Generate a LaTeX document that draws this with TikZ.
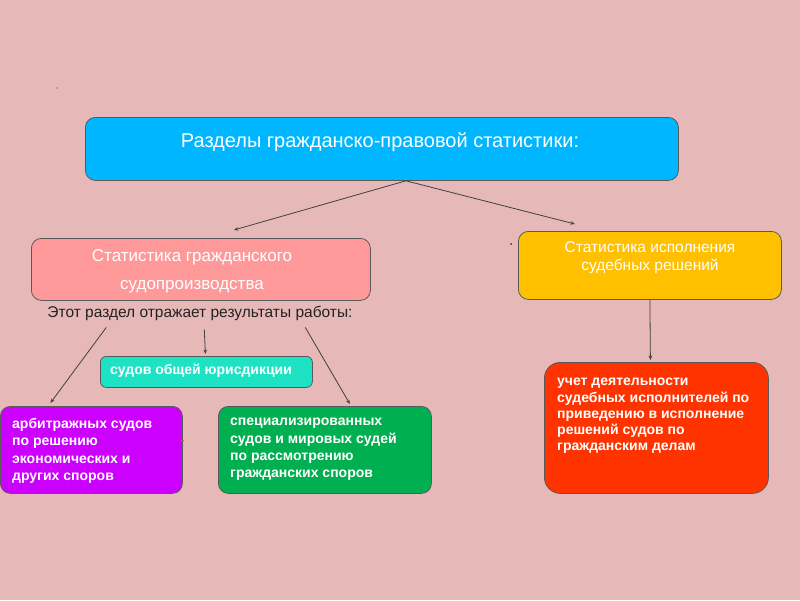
\documentclass[tikz,border=0pt]{standalone}
\usepackage{fontspec}
\setmainfont{Liberation Sans}
\usetikzlibrary{calc,arrows.meta}
\definecolor{bgpink}{RGB}{230,185,184}
\definecolor{cblue}{RGB}{0,183,255}
\definecolor{cpink}{RGB}{255,153,153}
\definecolor{cyellow}{RGB}{255,192,0}
\definecolor{cteal}{RGB}{30,226,196}
\definecolor{cpurple}{RGB}{204,0,255}
\definecolor{cgreen}{RGB}{0,176,80}
\definecolor{cred}{RGB}{255,51,0}
\definecolor{ctext}{RGB}{35,35,35}
\begin{document}
\begin{tikzpicture}[x=1pt,y=-1pt,
  box/.style={draw=black!65,line width=0.8pt,rounded corners=10pt,anchor=north west,inner sep=0pt},
  lbl/.style={text=white,inner sep=0pt,font=\fontsize{14}{17.4}\selectfont\bfseries},
  hdr/.style={text=white,inner sep=0pt,anchor=base},
  conn/.style={draw=black!75,line width=0.8pt,-{Stealth[length=4.5pt,width=3.5pt]}}]
\fill[bgpink] (0,0) rectangle (800,600);
\useasboundingbox (0,0) rectangle (800,600);
% boxes
\node[box,fill=cblue,minimum width=593pt,minimum height=63pt] (title) at (85,117) {};
\node[box,fill=cpink,minimum width=339pt,minimum height=62pt] (civil) at (31,238) {};
\node[box,fill=cyellow,minimum width=263pt,minimum height=68pt] (exec) at (518,231) {};
\node[box,fill=cteal,minimum width=212pt,minimum height=31pt,rounded corners=6pt] (general) at (100,356) {};
\node[box,fill=cpurple,minimum width=182pt,minimum height=87pt] (arb) at (0,406) {};
\node[box,fill=cgreen,minimum width=213pt,minimum height=87pt] (spec) at (218,406) {};
\node[box,fill=cred,minimum width=224pt,minimum height=131pt,rounded corners=16pt] (bailiff) at (544,362) {};
% texts
\node[hdr,font=\fontsize{20}{24}\selectfont] (titletext) at (380,147) {Разделы гражданско-правовой статистики:};
\node[hdr,font=\fontsize{17}{20}\selectfont] (civ1) at (192,261) {Статистика гражданского};
\node[hdr,font=\fontsize{17}{20}\selectfont] (civ2) at (192,289) {судопроизводства};
\node[inner sep=0pt,anchor=base,text=ctext,font=\fontsize{15.5}{18}\selectfont] (caption) at (200,317) {Этот раздел отражает результаты работы:};
\node[hdr,font=\fontsize{15.5}{18}\selectfont] (ex1) at (650,252) {Статистика исполнения};
\node[hdr,font=\fontsize{15.5}{18}\selectfont] (ex2) at (650,270) {судебных решений};
\node[lbl,anchor=base west] (gentext) at (110,374) {судов общей юрисдикции};
\node[lbl,anchor=north west,align=left] (arbtext) at (12,418) {арбитражных судов\\по решению\\экономических и\\других споров};
\node[lbl,anchor=north west,align=left] (spectext) at (230,418) {специализированных\\судов и мировых судей\\по рассмотрению\\гражданских споров};
\node[lbl,anchor=north west,align=left,font=\fontsize{14}{16.3}\selectfont\bfseries] (baitext) at (557,378) {учет деятельности\\судебных исполнителей по\\приведению в исполнение\\решений судов по\\гражданским делам};
% connectors
\coordinate (split) at ($(title.south)+(24,0)$);
\draw[conn] (split) -- ($(civil.north)+(33,-8)$);
\draw[conn] (split) -- ($(exec.north)+(-75,-7)$);
\draw[conn] ($(caption.south west)+(59,7)$) -- ($(arb.north)+(-41,-3)$);
\draw[conn] ($(caption.south west)+(157,9)$) -- ($(general.north)+(-1,-2)$);
\draw[conn] ($(caption.south west)+(258,7)$) -- ($(spec.north)+(25,-2)$);
\draw[conn] (exec.south) -- ($(bailiff.north)+(-6,-2)$);
% stray dots
\fill[olive!70] (57,88) circle (1.2pt);
\fill[red!70!black] (511,244) circle (1pt);
\fill[orange!80!black] (181,440) rectangle (184,441);
\end{tikzpicture}
\end{document}
